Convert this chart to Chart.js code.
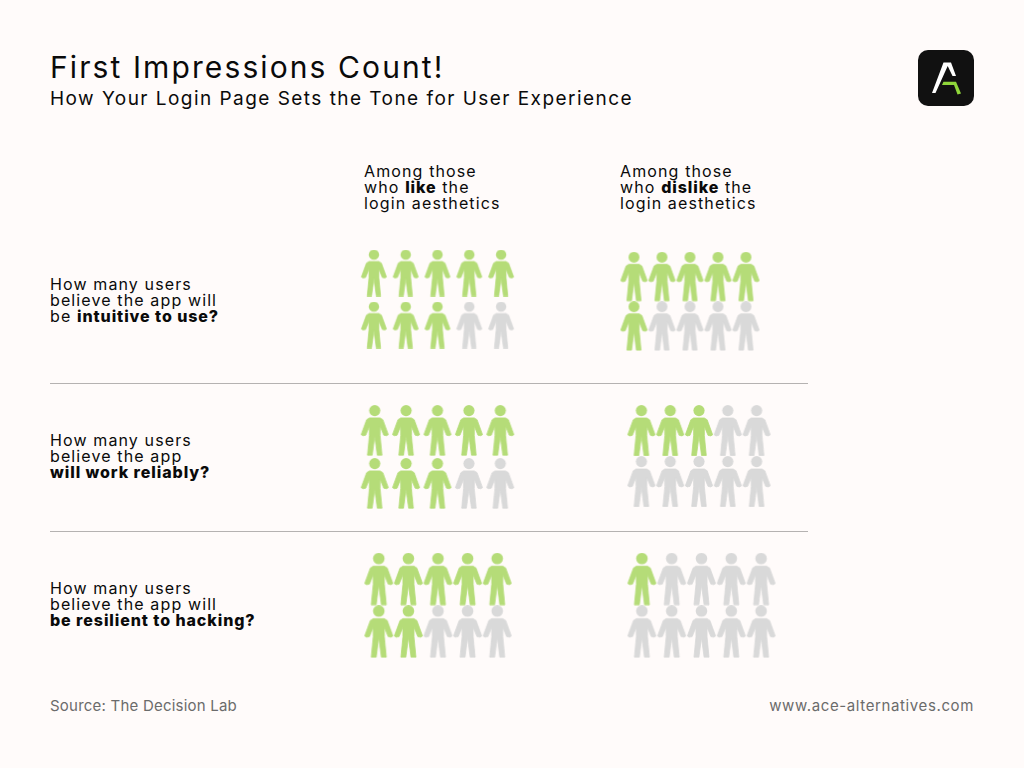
<!DOCTYPE html>
<html>
<head>
<meta charset="utf-8">
<title>First Impressions Count!</title>
<script src="https://cdn.jsdelivr.net/npm/chart.js@4"></script>
<style>
	html, body { margin: 0; padding: 0; }
	body { width: 1024px; height: 768px; background: #fffbfa; position: relative; overflow: hidden; font-family: Inter, sans-serif; color: #0a0a0a; }
	.txt { position: absolute; white-space: nowrap; }
	.title { left: 50px; top: 49px; font-size: 30px; line-height: 36px; letter-spacing: 2.1px; }
	.subtitle { left: 50px; top: 87px; font-size: 19px; line-height: 24px; letter-spacing: 1.46px; }
	.label { font-size: 16px; letter-spacing: 1.12px; }
	.label span { display: block; height: 16px; line-height: 16px; }
	.label b { font-weight: 800; letter-spacing: 0.92px; }
	.foot { font-size: 15px; line-height: 20px; color: #6b6b6b; }
	.rule { position: absolute; left: 50px; width: 758px; height: 1px; background: #b5b2b1; }
	.panel { position: absolute; }
	.logo { position: absolute; left: 918px; top: 50px; }
</style>
</head>
<body>

<div class="txt title">First Impressions Count!</div>
<div class="txt subtitle">How Your Login Page Sets the Tone for User Experience</div>

<svg class="logo" width="56" height="56" viewBox="918 50 56 56">
	<rect x="918" y="50" width="56" height="56" rx="10" fill="#111111"></rect>
	<path d="M943.5 62.5 L951 62.5 L956 76 L952.5 76 L947.7 66 L935.5 93 L932 93 Z" fill="#ffffff"></path>
	<path d="M943.5 81.7 L956 81.7 L961 93.5 L957.5 94.5 L954 85 L942 85 Z" fill="#8fd63a"></path>
</svg>

<div class="txt label" style="left:364px;top:163px"><span>Among those</span><span>who <b>like</b> the</span><span>login aesthetics</span></div>
<div class="txt label" style="left:620px;top:163px"><span>Among those</span><span>who <b>dislike</b> the</span><span>login aesthetics</span></div>

<div class="txt label" style="left:50px;top:276px"><span>How many users</span><span>believe the app will</span><span>be <b>intuitive to use?</b></span></div>
<div class="txt label" style="left:50px;top:432px"><span>How many users</span><span>believe the app</span><span><b>will work reliably?</b></span></div>
<div class="txt label" style="left:50px;top:580px"><span>How many users</span><span>believe the app will</span><span><b>be resilient to hacking?</b></span></div>

<div class="rule" style="top:383px"></div>
<div class="rule" style="top:531px"></div>

<div class="txt foot" style="left:50px;top:696px;letter-spacing:0.22px">Source: The Decision Lab</div>
<div class="txt foot" style="right:50px;top:696px;letter-spacing:0.62px">www.ace-alternatives.com</div>

<script>
// people out of 10 who said yes, one entry per question
const questions = ['intuitive', 'reliable', 'resilient']
const likeYes = [8, 8, 7]
const dislikeYes = [6, 3, 1]
const peoplePerRow = 5
const rowsPerPanel = 2

const green = '#b5dc78'
const grey = '#d9d9d9'

// where each panel sits on the page: first column x, first row y, column and row steps, icon height
const panelBoxes = {
	like: [
		{ x: 373.7, y: 272.5, dx: 31.75, dy: 52, h: 47 },
		{ x: 374.7, y: 430.7, dx: 31.3, dy: 53.2, h: 50.7 },
		{ x: 378.3, y: 579, dx: 29.5, dy: 52.7, h: 52.6 }
	],
	dislike: [
		{ x: 634, y: 276.5, dx: 28, dy: 49.5, h: 49.5 },
		{ x: 641.3, y: 430.5, dx: 28.85, dy: 51, h: 51 },
		{ x: 641.7, y: 579, dx: 29.8, dy: 52.7, h: 52.6 }
	]
}

// person outline, right half, in units of the icon height from the top centre
const bodyRight = [
	[0.105, 0.255], [0.16, 0.29], [0.268, 0.585], [0.232, 0.606], [0.178, 0.596],
	[0.105, 0.42], [0.105, 0.6], [0.143, 0.99], [0.05, 0.99], [0, 0.615]
]

const personIcon = function (color, h) {
	const w = Math.ceil(h * 0.58)
	const canvas = document.createElement('canvas')
	canvas.width = w
	canvas.height = Math.ceil(h)
	const ctx = canvas.getContext('2d')
	ctx.fillStyle = color
	ctx.strokeStyle = color
	ctx.lineWidth = 0.016
	ctx.lineJoin = 'round'
	ctx.translate(w / 2, 0)
	ctx.scale(h, h)
	ctx.beginPath()
	ctx.arc(0, 0.11, 0.11, 0, Math.PI * 2)
	ctx.fill()
	ctx.beginPath()
	ctx.moveTo(-bodyRight[0][0], bodyRight[0][1])
	bodyRight.forEach(p => ctx.lineTo(p[0], p[1]))
	bodyRight.slice().reverse().forEach(p => ctx.lineTo(-p[0], p[1]))
	ctx.closePath()
	ctx.fill()
	ctx.stroke()
	return canvas
}

// first `yes` seats of the grid are green, the rest grey
const seats = function (yes) {
	const filled = []
	const empty = []
	for (let row = 0; row < rowsPerPanel; row++) {
		for (let col = 0; col < peoplePerRow; col++) {
			const seat = { x: col, y: row }
			if (filled.length < yes) {
				filled.push(seat)
			} else {
				empty.push(seat)
			}
		}
	}
	return { filled, empty }
}

const drawPanel = function (yes, box) {
	const wrap = document.createElement('div')
	wrap.className = 'panel'
	const width = Math.round(box.dx * peoplePerRow)
	const height = Math.round(box.dy * rowsPerPanel)
	wrap.style.left = Math.round(box.x - box.dx / 2) + 'px'
	wrap.style.top = Math.round(box.y - box.dy / 2) + 'px'
	wrap.style.width = width + 'px'
	wrap.style.height = height + 'px'
	const canvas = document.createElement('canvas')
	canvas.width = width
	canvas.height = height
	wrap.appendChild(canvas)
	document.body.appendChild(wrap)

	const people = seats(yes)
	new Chart(canvas, {
		type: 'scatter',
		data: {
			datasets: [
				{ label: 'Yes', data: people.filled, pointStyle: personIcon(green, box.h), clip: false },
				{ label: 'No', data: people.empty, pointStyle: personIcon(grey, box.h), clip: false }
			]
		},
		options: {
			responsive: false,
			animation: false,
			layout: { padding: 0, autoPadding: false },
			plugins: { legend: { display: false }, tooltip: { enabled: false } },
			scales: {
				x: { display: false, min: -0.5, max: peoplePerRow - 0.5 },
				y: { display: false, min: -0.5, max: rowsPerPanel - 0.5, reverse: true }
			}
		}
	})
}

questions.forEach((question, i) => {
	drawPanel(likeYes[i], panelBoxes.like[i])
	drawPanel(dislikeYes[i], panelBoxes.dislike[i])
})
</script>
</body>
</html>
